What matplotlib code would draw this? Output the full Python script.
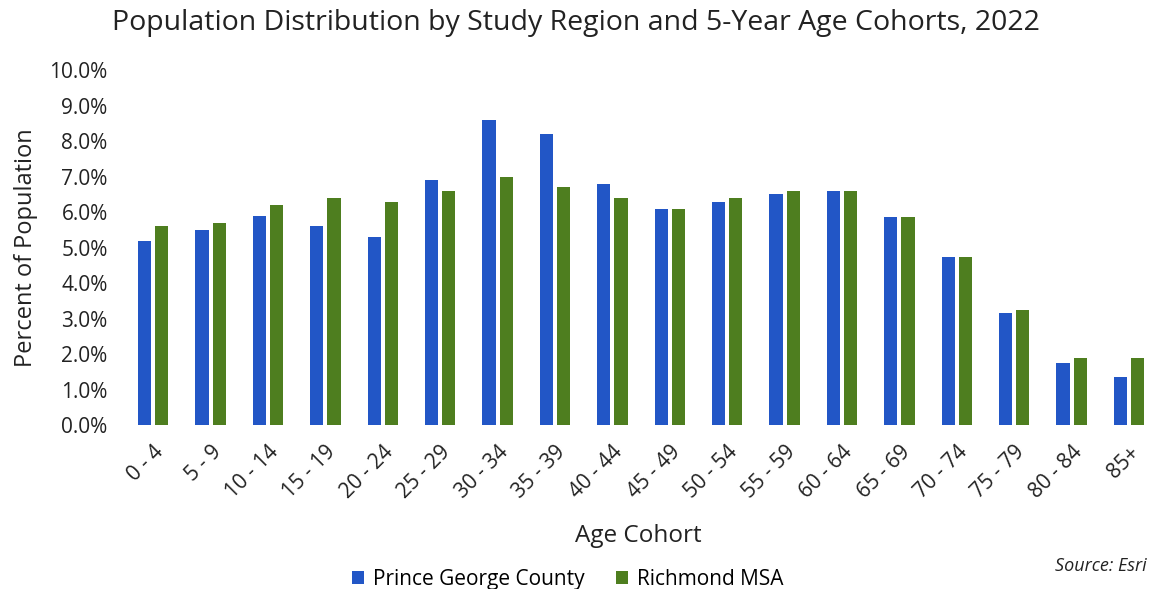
import matplotlib
matplotlib.use('Agg')
from matplotlib import pyplot as plt
from matplotlib.ticker import FuncFormatter
import numpy as np

cohorts = ["0 - 4", "5 - 9", "10 - 14", "15 - 19", "20 - 24", "25 - 29", "30 - 34",
           "35 - 39", "40 - 44", "45 - 49", "50 - 54", "55 - 59", "60 - 64",
           "65 - 69", "70 - 74", "75 - 79", "80 - 84", "85+"]
prince_george = [5.2, 5.5, 5.9, 5.6, 5.3, 6.9, 8.6, 8.2, 6.8, 6.1, 6.3, 6.5, 6.6,
                 5.85, 4.75, 3.15, 1.75, 1.35]
richmond = [5.6, 5.7, 6.2, 6.4, 6.3, 6.6, 7.0, 6.7, 6.4, 6.1, 6.4, 6.6, 6.6,
            5.85, 4.75, 3.25, 1.9, 1.9]

plt.rcParams['font.family'] = ['Open Sans', 'DejaVu Sans']

fig = plt.figure(figsize=(11.52, 5.89), dpi=100)
ax = fig.add_axes([0.108, 0.278, 0.892, 0.603])

x = np.arange(len(cohorts))
w = 0.23
ax.bar(x - 0.15, prince_george, w, color="#2256C6", label="Prince George County")
ax.bar(x + 0.15, richmond, w, color="#4E7E1F", label="Richmond MSA")

ax.set_xlim(-0.5, 17.4)
ax.set_ylim(0, 10)
ax.set_yticks(np.arange(0, 11, 1))
ax.yaxis.set_major_formatter(FuncFormatter(lambda v, p: f"{v:.1f}%"))
ax.set_xticks(x)
ax.set_xticklabels(cohorts, rotation=45, ha='right', rotation_mode='anchor')
ax.tick_params(length=0, labelsize=15, colors="#222222")
ax.tick_params(axis='x', pad=12)
ax.tick_params(axis='y', pad=12)
for s in ax.spines.values():
    s.set_visible(False)

ax.set_ylabel("Percent of Population", fontsize=17, color="#222222", labelpad=8)
ax.set_xlabel("Age Cohort", fontsize=17.5, color="#222222", labelpad=15)
fig.suptitle("Population Distribution by Study Region and 5-Year Age Cohorts, 2022",
             fontsize=20.5, color="#222222", x=0.5, y=0.985)

fig.legend(loc='lower center', bbox_to_anchor=(0.493, -0.033), ncol=2, frameon=False,
           fontsize=15, handlelength=0.55, handleheight=0.55, handletextpad=0.45,
           columnspacing=1.5)
fig.text(0.995, 0.03, "Source: Esri", ha='right', fontsize=13, style='italic', color="#222222")

plt.savefig("out.png")
